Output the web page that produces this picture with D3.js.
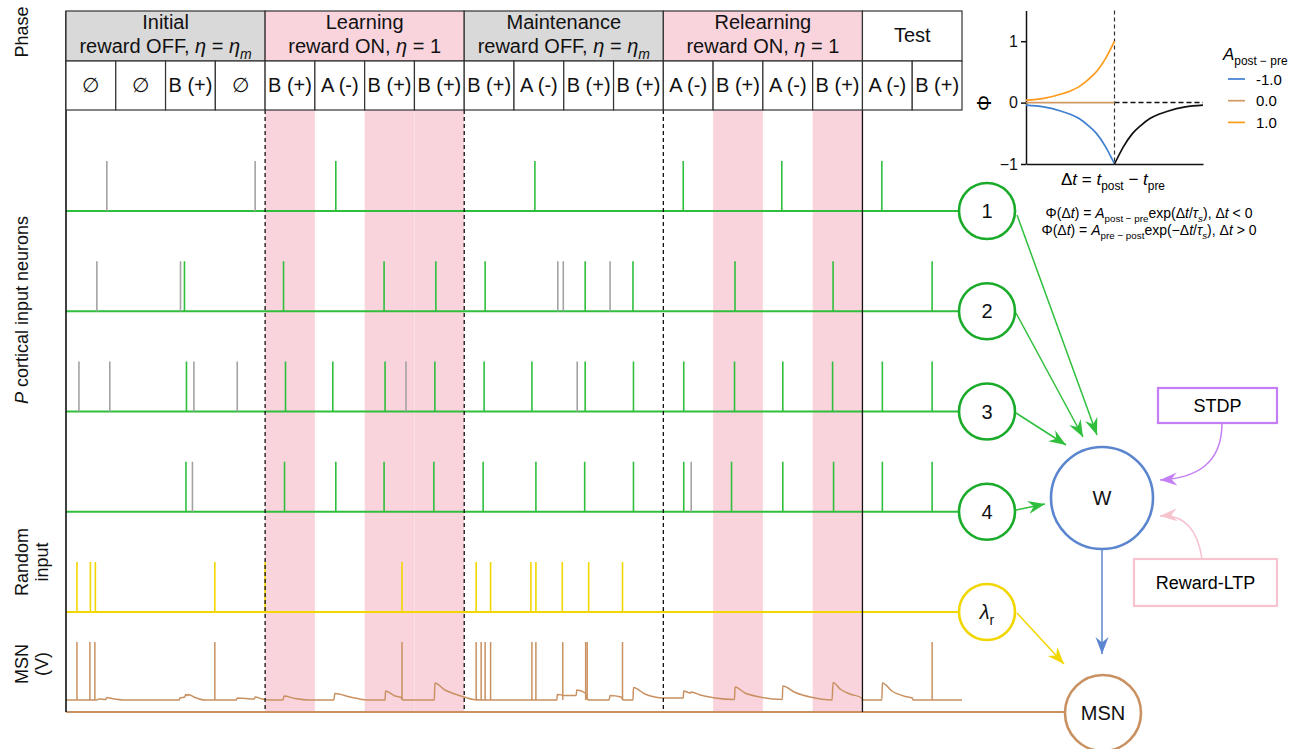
<!DOCTYPE html>
<html><head><meta charset="utf-8">
<script src="https://cdn.jsdelivr.net/npm/d3@7"></script>
<style>
body{margin:0;background:#fff}
svg{display:block;font-family:"Liberation Sans",Arial,Helvetica,sans-serif}
</style>
</head><body>
<svg id="c" width="1297" height="749"></svg>
<script>
// ---------------- DATA ----------------
const phaseNames   = ["Initial","Learning","Maintenance","Relearning","Test"];
const phaseReward  = ["OFF","ON","OFF","ON",null];
const phaseTrials  = [4,4,4,4,2];
const trialLabels  = ["∅","∅","B (+)","∅","B (+)","A (-)","B (+)","B (+)","B (+)","A (-)","B (+)","B (+)","A (-)","B (+)","A (-)","B (+)","A (-)","B (+)"];
const rewardedTrials = [4,6,7,13,15];
const trialLength = 100;   // time units per trial

// spike times (time units, 100 per trial)
const neuron1Gray  = [82,380];
const neuron1Green = [542,942,1240,1438,1639];
const neuron2Gray  = [62,230,988,999,1093];
const neuron2Green = [238,437,639,743,842,1043,1139,1344,1541,1740];
const neuron3Gray  = [26,88,257,344,683,1027];
const neuron3Green = [242,441,536,641,741,840,936,1043,1140,1241,1343,1440,1540,1640,1740];
const neuron4Gray  = [254,1256];
const neuron4Green = [241,439,542,639,739,838,944,1042,1140,1241,1337,1440,1542,1640,1740];
const randomSpikes = [22,49,59,299,400,675,824,853,934,944,997,1050,1118];
const msnSpikes    = [22,48,58,299,675,824,834,842,853,936,944,998,1044,1047,1118,1740];
// MSN sub-threshold membrane trace [time, V (a.u., rest = 0, spike peak = 58)]
const msnTrace = [
 [0,0],[62,0],[66,1],[80,0.5],[82,2.5],[92,1.5],[119,0],[227,0],[229,2],[239,3],[240,5.5],[245,4.5],[246,5.5],[259,2.5],[279,0],
 [342,0],[344,2],[378,1],[380,3],[394,1],[410,0],[436,0],[438,4],[460,1.5],[490,0],[538,0],[540,6.5],[571,3],[605,0],
 [641,0],[642,9],[661,4],[673,2.5],[677,0],[740,0],[741,17],[761,10],[781,6],[800,3],[818,0.5],[832,0],
 [986,0],[987,5.5],[996,5],[1002,4.5],[1025,4.5],[1026,10],[1043,7],[1049,0],[1091,0],[1093,4.5],[1115,3],[1119,0],
 [1139,0],[1140,12.5],[1163,6],[1183,3],[1199,2],[1240,2],[1241,9],[1254,7],[1256,8],[1274,5],[1304,2],[1343,0.5],
 [1344,13],[1364,7],[1394,3],[1439,0.5],[1440,14],[1465,7.5],[1495,3],[1539,0],[1541,17.5],[1555,11],[1575,6],[1599,2],
 [1600,0],[1639,0],[1640,17],[1659,9],[1686,3.5],[1700,2],[1702,0],[1800,0]
];

// STDP kernel inset
const dtNeg      = [-50,-40,-30,-25,-20,-15,-10,-5,0];
const phiApos    = [0.04,0.07,0.14,0.19,0.26,0.37,0.51,0.72,1.0];
const phiAzero   = [0,0,0,0,0,0,0,0,0];
const phiAneg    = [-0.04,-0.07,-0.14,-0.19,-0.26,-0.37,-0.51,-0.72,-1.0];
const dtPos      = [0,5,10,15,20,25,30,40,50];
const phiPrePost = [-1.0,-0.72,-0.51,-0.37,-0.26,-0.19,-0.14,-0.07,-0.04];
const legendLabels = ["-1.0","0.0","1.0"];
const phiTicks = [-1,0,1];

// ---------------- STYLE ----------------
const C = {green:"#2fbf3c", greenDark:"#1aab2a", gray:"#a3a3a3", yellow:"#f2d600", tan:"#c99161",
  pink:"#f9d4dd", gray2:"#d9d9d9", blue:"#5b86cf", purple:"#c47ff5", pinkBox:"#f6c3cf",
  orange:"#ff9a1a", kBlue:"#3f7fd0", kTan:"#d29a62"};

const svg = d3.select("#c");
const xs = d3.scaleLinear().domain([0, 18*trialLength]).range([66, 962]);
const rowY = d3.scalePoint().domain(d3.range(5)).range([211, 612]);
const spikeY = i => d3.scaleLinear().domain([0,1]).range([rowY(i), rowY(i)-50]);
const msnY = d3.scaleLinear().domain([0,58]).range([700,642]);
const plotTop = 110, plotBottom = 712;

function rich(text, segs, size){
  let cur = 0;
  segs.forEach(s=>{
    const target = s.sub ? size*0.3 : 0;
    const ts = text.append("tspan").text(s.t).attr("dy", target-cur);
    if (s.sub) ts.attr("font-size", size*0.7);
    if (s.it) ts.attr("font-style","italic");
    cur = target;
  });
}

// pink reward bands
svg.append("g").selectAll("rect").data(rewardedTrials).join("rect")
  .attr("x", d=>xs(d*trialLength)).attr("width", d=>xs((d+1)*trialLength)-xs(d*trialLength))
  .attr("y", plotTop).attr("height", plotBottom-plotTop).attr("fill", C.pink);

// cortical rows
const grays = [neuron1Gray,neuron2Gray,neuron3Gray,neuron4Gray];
const greens = [neuron1Green,neuron2Green,neuron3Green,neuron4Green];
const rows = svg.append("g");
for (let i=0;i<4;i++){
  const y = spikeY(i);
  rows.append("line").attr("x1",xs(0)).attr("x2",959).attr("y1",y(0)).attr("y2",y(0))
    .attr("stroke",C.green).attr("stroke-width",1.8);
  rows.append("g").selectAll("line").data(grays[i]).join("line")
    .attr("x1",d=>xs(d)).attr("x2",d=>xs(d)).attr("y1",y(0)).attr("y2",y(1))
    .attr("stroke",C.gray).attr("stroke-width",1.6);
  rows.append("g").selectAll("line").data(greens[i]).join("line")
    .attr("x1",d=>xs(d)).attr("x2",d=>xs(d)).attr("y1",y(0)).attr("y2",y(1))
    .attr("stroke",C.green).attr("stroke-width",1.6);
}
// random input
{
  const y = spikeY(4);
  rows.append("line").attr("x1",xs(0)).attr("x2",959).attr("y1",y(0)).attr("y2",y(0))
    .attr("stroke",C.yellow).attr("stroke-width",1.8);
  rows.append("g").selectAll("line").data(randomSpikes).join("line")
    .attr("x1",d=>xs(d)).attr("x2",d=>xs(d)).attr("y1",y(0)).attr("y2",y(1))
    .attr("stroke",C.yellow).attr("stroke-width",1.6);
}
// MSN trace
svg.append("path").datum(msnTrace)
  .attr("d", d3.line().x(d=>xs(d[0])).y(d=>msnY(d[1])).curve(d3.curveMonotoneX))
  .attr("fill","none").attr("stroke",C.tan).attr("stroke-width",1.5);
svg.append("g").selectAll("line").data(msnSpikes).join("line")
  .attr("x1",d=>xs(d)).attr("x2",d=>xs(d)).attr("y1",msnY(0)).attr("y2",msnY(58))
  .attr("stroke",C.tan).attr("stroke-width",1.5);
svg.append("line").attr("x1",xs(0)).attr("x2",1065).attr("y1",plotBottom).attr("y2",plotBottom)
  .attr("stroke",C.tan).attr("stroke-width",1.8);

// phase boundaries
const bounds = d3.cumsum(phaseTrials);
svg.append("g").selectAll("line").data(bounds.slice(0,4)).join("line")
  .attr("x1",d=>xs(d*trialLength)).attr("x2",d=>xs(d*trialLength))
  .attr("y1",plotTop).attr("y2",plotBottom)
  .attr("stroke","#111").attr("stroke-width",1.3)
  .attr("stroke-dasharray",(d,i)=> i<3 ? "4,3" : null);
svg.append("line").attr("x1",xs(0)).attr("x2",xs(0)).attr("y1",11).attr("y2",plotBottom)
  .attr("stroke","#111").attr("stroke-width",1.6);

// table header
const tbl = svg.append("g").attr("font-size",20).attr("fill","#111");
let start = 0;
phaseNames.forEach((name,i)=>{
  const x0 = xs(start*trialLength), x1 = xs((start+phaseTrials[i])*trialLength);
  const fill = phaseReward[i]==="ON" ? C.pink : (phaseReward[i]==="OFF" ? C.gray2 : "#fff");
  tbl.append("rect").attr("x",x0).attr("y",11).attr("width",x1-x0).attr("height",50)
    .attr("fill",fill).attr("stroke","#333").attr("stroke-width",1.2);
  const cx = (x0+x1)/2;
  if (phaseReward[i]){
    tbl.append("text").attr("x",cx).attr("y",29).attr("text-anchor","middle").text(name);
    const t = tbl.append("text").attr("x",cx).attr("y",53).attr("text-anchor","middle");
    if (phaseReward[i]==="OFF")
      rich(t,[{t:"reward OFF, "},{t:"η",it:1},{t:" = "},{t:"η",it:1},{t:"m",it:1,sub:1}],20);
    else
      rich(t,[{t:"reward ON, "},{t:"η",it:1},{t:" = 1"}],20);
  } else {
    tbl.append("text").attr("x",cx).attr("y",42).attr("text-anchor","middle").text(name);
  }
  start += phaseTrials[i];
});
trialLabels.forEach((lab,i)=>{
  const x0 = xs(i*trialLength), x1 = xs((i+1)*trialLength);
  tbl.append("rect").attr("x",x0).attr("y",61).attr("width",x1-x0).attr("height",plotTop-61)
    .attr("fill","#fff").attr("stroke","#333").attr("stroke-width",1.2);
  tbl.append("text").attr("x",(x0+x1)/2).attr("y",92).attr("text-anchor","middle").text(lab);
});

// left labels
const lab = svg.append("g").attr("font-size",18).attr("fill","#111").attr("text-anchor","middle");
function vlabel(x,y,segs){
  const t = lab.append("text").attr("transform",`translate(${x},${y}) rotate(-90)`);
  rich(t,segs,18);
}
vlabel(28,32,[{t:"Phase"}]);
vlabel(28,310,[{t:"P",it:1},{t:" cortical input neurons"}]);
vlabel(28,562,[{t:"Random"}]); vlabel(48,562,[{t:"input"}]);
vlabel(28,664,[{t:"MSN"}]); vlabel(48,664,[{t:"(V)"}]);

// ---------------- NETWORK DIAGRAM ----------------
const defs = svg.append("defs");
function marker(id,color){
  defs.append("marker").attr("id",id).attr("viewBox","-18 -8 20 16")
    .attr("refX",0).attr("refY",0).attr("markerWidth",20).attr("markerHeight",16)
    .attr("markerUnits","userSpaceOnUse").attr("orient","auto")
    .append("path").attr("d","M0,0 L-17,-6.5 L-11.5,0 L-17,6.5 Z").attr("fill",color);
}
marker("mg",C.green); marker("my",C.yellow); marker("mb",C.blue); marker("mp",C.purple); marker("mk",C.pinkBox);

const net = svg.append("g");
const arrows = [
  {x1:1017,y1:215,x2:1097,y2:435,c:C.green,m:"mg"},
  {x1:1016,y1:313,x2:1083,y2:437,c:C.green,m:"mg"},
  {x1:1016,y1:413,x2:1066,y2:445,c:C.green,m:"mg"},
  {x1:1016,y1:510,x2:1045,y2:504,c:C.green,m:"mg"},
  {x1:1017,y1:613,x2:1064,y2:664,c:C.yellow,m:"my"},
  {x1:1102,y1:549,x2:1102,y2:654,c:C.blue,m:"mb"}
];
net.selectAll("line.a").data(arrows).join("line").attr("class","a")
  .attr("x1",d=>d.x1).attr("y1",d=>d.y1).attr("x2",d=>d.x2).attr("y2",d=>d.y2)
  .attr("stroke",d=>d.c).attr("stroke-width",1.5).attr("marker-end",d=>`url(#${d.m})`);

const circ = [
  {cx:987,cy:rowY(0),r:28,c:C.greenDark,t:[{t:"1"}]},
  {cx:987,cy:rowY(1),r:28,c:C.greenDark,t:[{t:"2"}]},
  {cx:987,cy:rowY(2),r:28,c:C.greenDark,t:[{t:"3"}]},
  {cx:987,cy:rowY(3),r:28,c:C.greenDark,t:[{t:"4"}]},
  {cx:987,cy:rowY(4),r:28,c:C.yellow,t:[{t:"λ",it:1},{t:"r",sub:1}]},
  {cx:1102,cy:498,r:51,c:C.blue,t:[{t:"W"}]},
  {cx:1103,cy:713,r:38,c:C.tan,t:[{t:"MSN"}]}
];
circ.forEach(d=>{
  net.append("circle").attr("cx",d.cx).attr("cy",d.cy).attr("r",d.r)
    .attr("fill","#fff").attr("stroke",d.c).attr("stroke-width",2.6);
  const t = net.append("text").attr("x",d.cx).attr("y",d.cy+7).attr("text-anchor","middle")
    .attr("font-size",20).attr("fill","#111");
  rich(t,d.t,20);
});

// STDP & Reward-LTP boxes
net.append("rect").attr("x",1158).attr("y",388).attr("width",119).attr("height",35)
  .attr("fill","#fff").attr("stroke",C.purple).attr("stroke-width",2.2);
net.append("text").attr("x",1217.5).attr("y",412).attr("text-anchor","middle").attr("font-size",18).text("STDP");
net.append("path").attr("d","M1222,423 C1222,465 1195,478 1160,480").attr("fill","none")
  .attr("stroke",C.purple).attr("stroke-width",1.5).attr("marker-end","url(#mp)");
net.append("rect").attr("x",1134).attr("y",559).attr("width",143).attr("height",47)
  .attr("fill","#fff").attr("stroke",C.pinkBox).attr("stroke-width",2.2);
net.append("text").attr("x",1205.5).attr("y",589).attr("text-anchor","middle").attr("font-size",18).text("Reward-LTP");
net.append("path").attr("d","M1202,559 C1198,532 1186,514 1160,516").attr("fill","none")
  .attr("stroke",C.pinkBox).attr("stroke-width",1.5).attr("marker-end","url(#mk)");

// ---------------- STDP INSET ----------------
const ix = d3.scaleLinear().domain([-50,50]).range([1026,1203]);
const iy = d3.scaleLinear().domain([-1,1.5]).range([164,10.5]);
const ins = svg.append("g");
ins.append("g").attr("transform",`translate(${ix(-50)},0)`)
  .call(d3.axisLeft(iy).tickValues(phiTicks).tickSize(5).tickSizeOuter(0).tickFormat(d=> d<0 ? "−1" : String(d)))
  .call(g=>{g.selectAll("text").attr("font-size",16).attr("fill","#111").attr("font-family","inherit");
           g.selectAll("path,line").attr("stroke","#111").attr("stroke-width",1.5);});
ins.append("g").attr("transform",`translate(0,${iy(-1)})`)
  .call(d3.axisBottom(ix).tickValues([]).tickSizeOuter(0))
  .call(g=>g.selectAll("path").attr("stroke","#111").attr("stroke-width",1.5));
ins.append("line").attr("x1",ix(0)).attr("x2",ix(0)).attr("y1",iy(1.5)).attr("y2",iy(-1))
  .attr("stroke","#333").attr("stroke-dasharray","4,3").attr("stroke-width",1.2);
ins.append("line").attr("x1",ix(0)).attr("x2",ix(50)).attr("y1",iy(0)).attr("y2",iy(0))
  .attr("stroke","#111").attr("stroke-dasharray","5,3").attr("stroke-width",1.5);
const kline = d3.line().x(d=>ix(d[0])).y(d=>iy(d[1])).curve(d3.curveMonotoneX);
const kern = [[dtNeg,phiAneg,C.kBlue],[dtNeg,phiAzero,C.kTan],[dtNeg,phiApos,C.orange],[dtPos,phiPrePost,"#111"]];
kern.forEach(([xsArr,ysArr,col])=>{
  ins.append("path").datum(xsArr.map((x,i)=>[x,ysArr[i]])).attr("d",kline)
    .attr("fill","none").attr("stroke",col).attr("stroke-width",1.7);
});
// Φ axis label
ins.append("text").attr("transform",`translate(991,103) rotate(-90)`).attr("text-anchor","middle")
  .attr("font-size",20).text("Φ");
// x label
{
  const t = ins.append("text").attr("x",1113).attr("y",185).attr("text-anchor","middle").attr("font-size",17);
  rich(t,[{t:"Δ"},{t:"t",it:1},{t:" = "},{t:"t",it:1},{t:"post",sub:1},{t:" − "},{t:"t",it:1},{t:"pre",sub:1}],17);
}
// legend
{
  const t = ins.append("text").attr("x",1223).attr("y",60).attr("font-size",17);
  rich(t,[{t:"A",it:1},{t:"post − pre",sub:1}],17);
  const cols = [C.kBlue,C.kTan,C.orange];
  legendLabels.forEach((l,i)=>{
    const y = 79 + i*21.7;
    ins.append("line").attr("x1",1228).attr("x2",1245).attr("y1",y).attr("y2",y).attr("stroke",cols[i]).attr("stroke-width",1.7);
    ins.append("text").attr("x",1256).attr("y",y+5.5).attr("font-size",15).text(l);
  });
}
// equations
{
  const e1 = ins.append("text").attr("x",1149).attr("y",218).attr("text-anchor","middle").attr("font-size",14);
  rich(e1,[{t:"Φ(Δ"},{t:"t",it:1},{t:") = "},{t:"A",it:1},{t:"post − pre",sub:1},{t:"exp(Δ"},{t:"t",it:1},{t:"/"},{t:"τ",it:1},{t:"s",it:1,sub:1},{t:"), Δ"},{t:"t",it:1},{t:" < 0"}],14);
  const e2 = ins.append("text").attr("x",1149).attr("y",235).attr("text-anchor","middle").attr("font-size",14);
  rich(e2,[{t:"Φ(Δ"},{t:"t",it:1},{t:") = "},{t:"A",it:1},{t:"pre − post",sub:1},{t:"exp(−Δ"},{t:"t",it:1},{t:"/"},{t:"τ",it:1},{t:"s",it:1,sub:1},{t:"), Δ"},{t:"t",it:1},{t:" > 0"}],14);
}
</script>
</body></html>
